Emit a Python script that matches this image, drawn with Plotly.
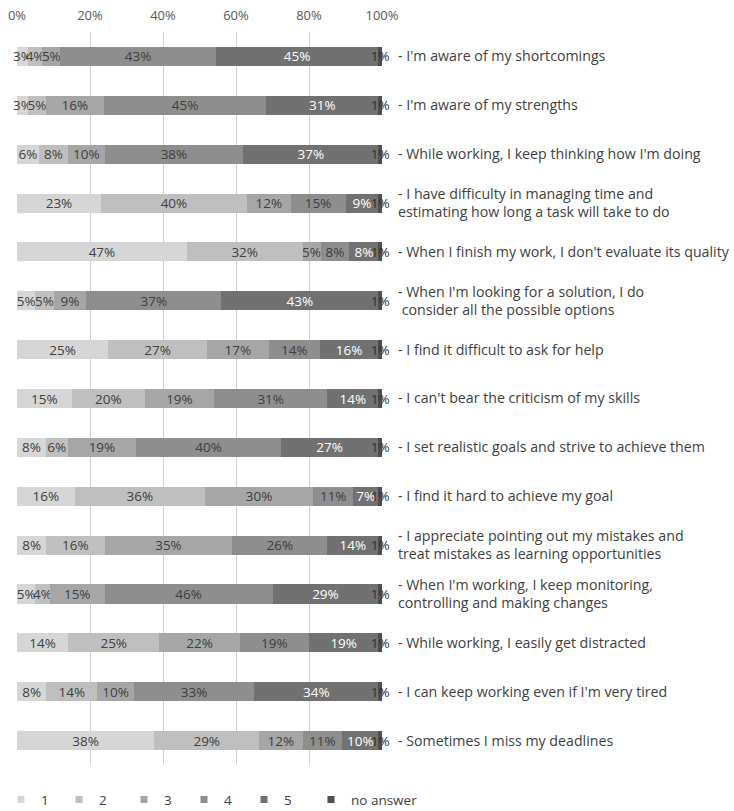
import plotly.graph_objects as go

statements = [
    "- I'm aware of my shortcomings",
    "- I'm aware of my strengths",
    "- While working, I keep thinking how I'm doing",
    "- I have difficulty in managing time and<br>estimating how long a task will take to do",
    "- When I finish my work, I don't evaluate its quality",
    "- When I'm looking for a solution, I do<br> consider all the possible options",
    "- I find it difficult to ask for help",
    "- I can't bear the criticism of my skills",
    "- I set realistic goals and strive to achieve them",
    "- I find it hard to achieve my goal",
    "- I appreciate pointing out my mistakes and<br>treat mistakes as learning opportunities",
    "- When I'm working, I keep monitoring,<br>controlling and making changes",
    "- While working, I easily get distracted",
    "- I can keep working even if I'm very tired",
    "- Sometimes I miss my deadlines",
]

series_names = ["1", "2", "3", "4", "5", "no answer"]

v1 = [3, 3, 6, 23, 47, 5, 25, 15, 8, 16, 8, 5, 14, 8, 38]
v2 = [4, 5, 8, 40, 32, 5, 27, 20, 6, 36, 16, 4, 25, 14, 29]
v3 = [5, 16, 10, 12, 5, 9, 17, 19, 19, 30, 35, 15, 22, 10, 12]
v4 = [43, 45, 38, 15, 8, 37, 14, 31, 40, 11, 26, 46, 19, 33, 11]
v5 = [45, 31, 37, 9, 8, 43, 16, 14, 27, 7, 14, 29, 19, 34, 10]
v_na = [1, 1, 1, 1, 1, 1, 1, 1, 1, 1, 1, 1, 1, 1, 1]

series_values = [v1, v2, v3, v4, v5, v_na]
colors = ["#d6d6d6", "#bfbfbf", "#a6a6a6", "#8e8e8e", "#717171", "#4f4f4f"]
text_colors = ["#404040", "#404040", "#404040", "#404040", "#ffffff", "#303030"]

FONT = "Open Sans"
W, H = 734, 811
legend_text_px = [37, 95, 160, 220, 280, 347]

fig = go.Figure()
for name, vals, col, tcol in zip(series_names, series_values, colors, text_colors):
    fig.add_trace(go.Bar(
        y=statements, x=vals, name=name, orientation="h",
        marker=dict(color=col, line=dict(width=0)),
        text=[f"{v}%" for v in vals],
        texttemplate="%{text}",
        textposition="inside", insidetextanchor="middle",
        textangle=0, constraintext="none", cliponaxis=False,
        textfont=dict(family=FONT, size=13.5, color=tcol),
        showlegend=False, hoverinfo="skip",
    ))

# legend entries with small square swatches, one legend box per entry
legend_layouts = {}
for i, (name, col) in enumerate(zip(series_names, colors)):
    key = "legend" if i == 0 else f"legend{i + 1}"
    fig.add_trace(go.Scatter(
        x=[None], y=[None], mode="markers", name=name,
        marker=dict(symbol="square", size=7, color=col),
        showlegend=True, legend=key,
    ))
    legend_layouts[key] = dict(
        orientation="h", xref="container", yref="container",
        x=(legend_text_px[i] - 36) / W, xanchor="left",
        y=0.014, yanchor="middle", bgcolor="rgba(0,0,0,0)",
        font=dict(family=FONT, size=13.5, color="#404040"),
    )

fig.update_layout(
    barmode="stack", barnorm="percent", bargap=0.61,
    width=W, height=H,
    margin=dict(l=17, r=352, t=32, b=46, autoexpand=False),
    paper_bgcolor="white", plot_bgcolor="white",
    font=dict(family=FONT, size=13, color="#404040"),
    xaxis=dict(side="top", range=[0, 100], dtick=20, ticksuffix="%",
               showgrid=True, gridcolor="#d0d0d0", gridwidth=1,
               zeroline=False, showline=False, ticks="",
               ticklabelstandoff=8,
               tickfont=dict(family=FONT, size=13, color="#595959")),
    yaxis=dict(side="right", autorange="reversed", showgrid=False,
               ticks="", ticklabelstandoff=15, showline=False,
               tickfont=dict(family=FONT, size=14.2, color="#404040")),
    **legend_layouts,
)

fig.write_html("out.html")
